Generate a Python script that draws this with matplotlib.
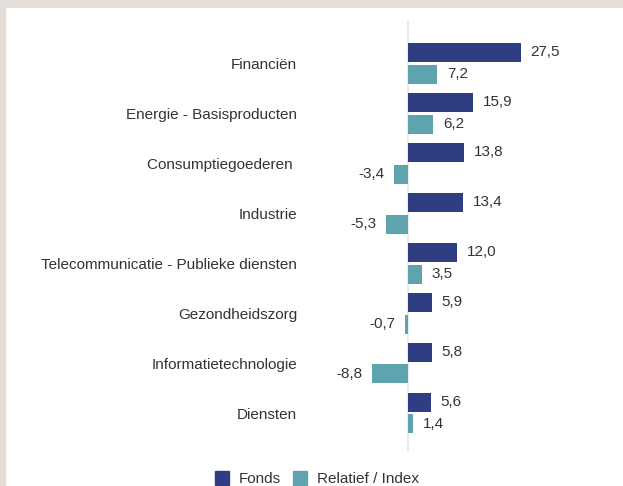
import matplotlib
matplotlib.use("Agg")
import matplotlib.pyplot as plt
from matplotlib.lines import Line2D
from matplotlib.patches import Rectangle

categories = ["Financiën", "Energie - Basisproducten", "Consumptiegoederen ", "Industrie",
              "Telecommunicatie - Publieke diensten", "Gezondheidszorg",
              "Informatietechnologie", "Diensten"]
fonds = [27.5, 15.9, 13.8, 13.4, 12.0, 5.9, 5.8, 5.6]
relatief = [7.2, 6.2, -3.4, -5.3, 3.5, -0.7, -8.8, 1.4]
series_names = ["Fonds", "Relatief / Index"]

c_fonds = "#2f3e82"
c_rel = "#5fa3ae"
txt = "#333333"

plt.rcParams['font.family'] = ['Liberation Sans', 'DejaVu Sans']

W, H = 623, 486
fig = plt.figure(figsize=(W/100, H/100), dpi=100)
fig.patch.set_facecolor("#e3deda")
fig.add_artist(Rectangle((6/W, 0), 1, 1 - 8/H, transform=fig.transFigure,
                         facecolor="white", edgecolor="none", zorder=0))

zero_x = 407.7
ppu = 4.11
left_px, right_px = 300, 615
ax = fig.add_axes([left_px/W, 1 - 452/H, (right_px-left_px)/W, (452-20)/H])
ax.set_facecolor("none")
ax.set_xlim((left_px-zero_x)/ppu, (right_px-zero_x)/ppu)

ys = list(range(len(categories)))
off, h = 0.22, 0.38
yf = [y - off for y in ys]
yr = [y + off for y in ys]
ax.barh(yf, fonds, height=h, color=c_fonds, zorder=3)
ax.barh(yr, relatief, height=h, color=c_rel, zorder=3)
ax.set_ylim(len(categories) - 1 + 0.78, -0.86)
ax.axvline(0, color="#e6e6e6", lw=1.2, zorder=1)

fs = 11
for y, v in zip(yf + yr, fonds + relatief):
    lab = f"{v:.1f}".replace(".", ",")
    if v >= 0:
        ax.annotate(lab, (v, y), xytext=(7, 0), textcoords="offset points",
                    ha="left", va="center", fontsize=fs, color=txt)
    else:
        ax.annotate(lab, (v, y), xytext=(-6.5, 0), textcoords="offset points",
                    ha="right", va="center", fontsize=fs, color=txt)

ax.set_yticks(ys)
ax.set_yticklabels(categories, fontsize=fs, color=txt)
ax.tick_params(axis="y", length=0, pad=2)
for lbl in ax.get_yticklabels():
    lbl.set_y(lbl.get_position()[1])
ax.set_xticks([])
for s in ax.spines.values():
    s.set_visible(False)

handles = [Line2D([], [], marker="s", linestyle="none", markersize=10.5, color=c_fonds),
           Line2D([], [], marker="s", linestyle="none", markersize=10.5, color=c_rel)]
fig.legend(handles, series_names, loc="center", bbox_to_anchor=(318/W, (H-479)/H),
           ncol=2, frameon=False, fontsize=fs, handlelength=0.7, handletextpad=0.75,
           columnspacing=0.9, labelcolor=txt)

fig.savefig("out.png", dpi=100, facecolor=fig.get_facecolor())
